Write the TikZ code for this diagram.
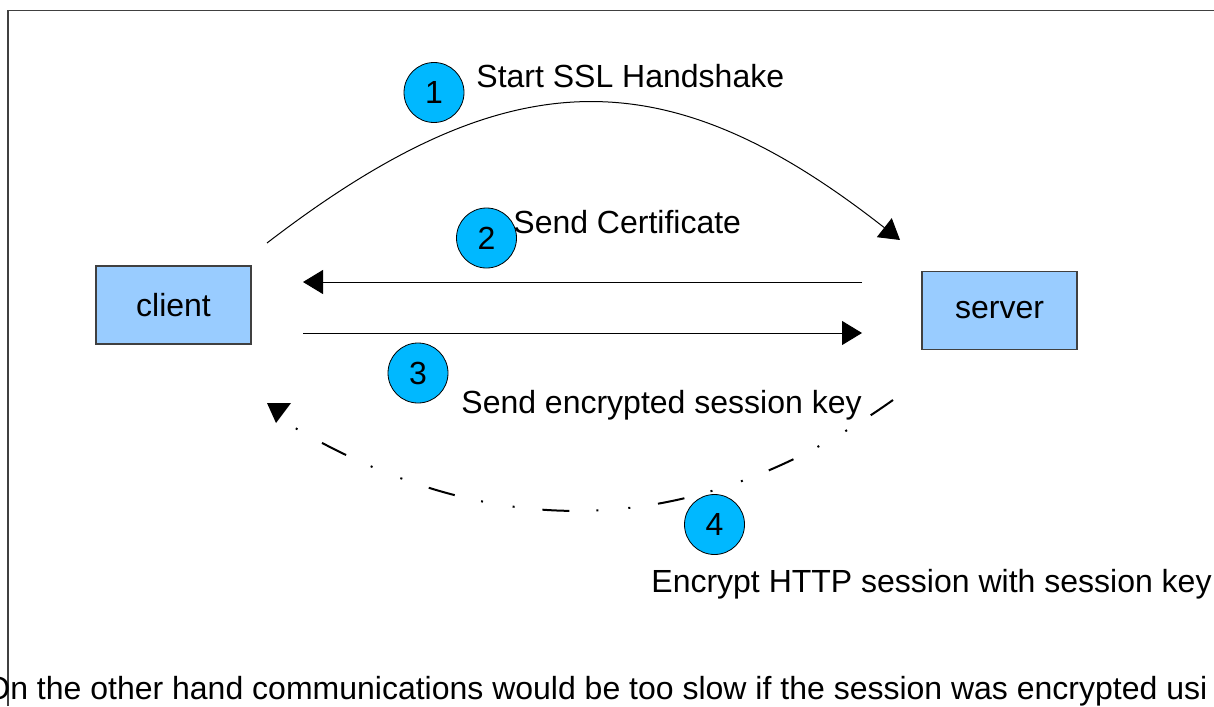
\documentclass[tikz,border=0pt]{standalone}
\usepackage{fontspec}
\setmainfont{Liberation Sans}
\usetikzlibrary{arrows.meta}
\definecolor{hostblue}{HTML}{99CCFF}
\definecolor{stepblue}{HTML}{00B8FF}

\begin{document}
\begin{tikzpicture}[x=0.5pt,y=-0.5pt,
	every node/.style={font=\fontsize{16}{19}\selectfont},
	hostbox/.style={draw=black!75,line width=0.6pt,fill=hostblue,minimum width=77.5pt,minimum height=39pt,inner sep=0pt},
	stepnum/.style={circle,draw=black,line width=0.4pt,fill=stepblue,minimum size=30pt,inner sep=0pt},
	lbl/.style={anchor=base west,inner sep=0pt},
	msg/.style={line width=0.5pt,-{Triangle[length=10pt,width=12pt]}},
	keyline/.style={line width=1pt,dash pattern=on 13.5pt off 14pt on 1pt off 15pt on 1pt off 13.5pt}]
	
	\useasboundingbox (0,0) rectangle (1214,706);
	\clip (0,0) rectangle (1214,706);
	
	% Define the frame
	\draw[black!75,line width=0.75pt] (8,706) -- (8,10.5) -- (1214,10.5);
	
	% Define the hosts
	\node[hostbox] (client) at (173.5,305) {client};
	\node[hostbox] (server) at (999.5,310.5) {server};
	
	% Draw the messages
	\coordinate (hello) at (267,243);
	\coordinate (hello end) at (900,240);
	\draw[msg] (hello) .. controls (509,57) and (667,57) .. (hello end);
	\coordinate (cert) at (862,282);
	\coordinate (cert end) at (303,282);
	\draw[msg] (cert) -- (cert end);
	\coordinate (key) at (303,333);
	\coordinate (key end) at (862,333);
	\draw[msg] (key) -- (key end);
	
	% Draw the session
	\coordinate (sess) at (893,400);
	\coordinate (sess end) at (285,422);
	\draw[keyline] (sess) .. controls (690,544) and (488,544) .. (sess end);
	\fill (267,403) -- (291,403) -- (276,423) -- cycle;
	
	% Number the steps
	\node[stepnum] (one) at (434,92.5) {1};
	\node[stepnum] (two) at (486.5,238) {2};
	\node[stepnum] (three) at (418,373) {3};
	\node[stepnum] (four) at (714.5,524.5) {4};
	
	% Label the steps
	\node[lbl] (hello text) at (476,88) {Start SSL Handshake};
	\node[lbl] (cert text) at (513,233) {Send Certificate};
	\node[lbl] (key text) at (461,413) {Send encrypted session key};
	\node[lbl] (sess text) at (651,592) {Encrypt HTTP session with session key};
	\node[lbl] (note) at (-15,699) {On the other hand communications would be too slow if the session was encrypted usi};
	
\end{tikzpicture}
\end{document}
